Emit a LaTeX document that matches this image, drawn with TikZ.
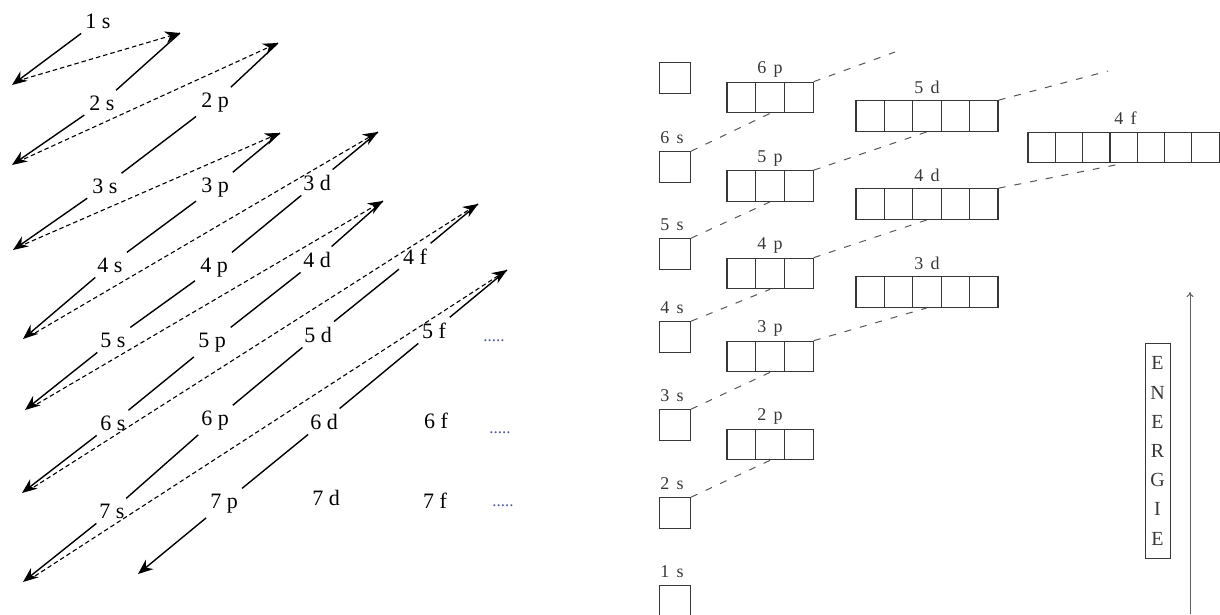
\documentclass[tikz,border=0pt]{standalone}
\usepackage{fontspec}
\setmainfont{Liberation Serif}
\newfontfamily\rfont[WordSpace=1.6]{Liberation Serif}
\usepackage{tikz}
\usetikzlibrary{arrows.meta, positioning, calc}
\definecolor{BoxGray}{RGB}{55,55,55}
\definecolor{DotBlue}{RGB}{80,90,150}

\begin{document}
\begin{tikzpicture}[x=1pt,y=-1pt,
	lbl/.style={anchor=base,inner sep=5pt,font=\fontsize{22}{24}\selectfont},
	dots/.style={anchor=base,inner sep=0pt,text=DotBlue,font=\fontsize{17}{20}\selectfont},
	ld/.style={line width=1.4pt},
	arr/.style={-{Stealth[length=15pt,width=12pt]}},
	lj/.style={line width=1.1pt,dash pattern=on 4.5pt off 3pt,-{Stealth[length=15pt,width=12pt]}},
	orb/.style={anchor=base,inner sep=1pt,text=BoxGray,font=\rfont\fontsize{18}{20}\selectfont},
	cell/.style={rectangle,draw=BoxGray,line width=1.2pt,minimum width=28.4pt,minimum height=30.5pt,inner sep=0pt},
	rj/.style={draw=BoxGray!85,line width=1pt,dash pattern=on 7pt off 9pt}]
\useasboundingbox (0,0) rectangle (1220,614);
\foreach \n/\l/\x/\y in {1/s/98/28,2/s/102/110,2/p/215/107,3/s/105/193,3/p/215/192,3/d/317/190,
	4/s/110/272,4/p/214/272,4/d/317/267,4/f/415/264,5/s/113/347,5/p/212/347,5/d/318/342,5/f/434/338,
	6/s/113/430,6/p/215/425,6/d/324/429,6/f/436/428,7/s/112/518,7/p/224/508,7/d/326/505,7/f/435/508}
	\node[lbl] (a\n\l) at (\x,\y) {\n~\l};
\foreach \i/\x/\y in {5/494/341,6/500/433,7/503/506}\node[dots] (dots\i) at (\x,\y) {.....};
\foreach \k/\x/\y in {2/180/33,3/278/43,4/280/133,5/378/132,6/383/201,7/478/204,8/507/270}\coordinate (t\k) at (\x,\y);
\foreach \k/\x/\y in {1/12/85,2/12/165,3/13/250,4/23/339,5/25/410,6/22/493,7/23/582,8/138/574}\coordinate (e\k) at (\x,\y);
\foreach \a/\b in {t2/a2s,t3/a2p,a2p/a3s,t4/a3p,a3p/a4s,t5/a3d,a3d/a4p,a4p/a5s,t6/a4d,a4d/a5p,a5p/a6s,
	t7/a4f,a4f/a5d,a5d/a6p,a6p/a7s,t8/a5f,a5f/a6d,a6d/a7p}\draw[ld] (\a)--(\b);
\foreach \a/\b in {a1s/e1,a2s/e2,a3s/e3,a4s/e4,a5s/e5,a6s/e6,a7s/e7,a7p/e8}\draw[ld,arr] (\a)--(\b);
\foreach \k/\m in {1/2,2/3,3/4,4/5,5/6,6/7,7/8}\draw[lj] ([shift={(12,-6)}]e\k)--(t\m);
\foreach \k/\y in {0/78,6/167,5/254,4/337,3/425,2/513,1/601}\node[cell,minimum width=31pt] (s\k) at (675,\y){};
\foreach \n/\y in {6/97.5,5/186,4/273.5,3/356.5,2/444.5}\foreach \c in {1,2,3}
	\node[cell,minimum width=28.7pt] (p\n-\c) at ({712.65+28.7*\c},\y){};
\foreach \n/\y in {5/116,4/204,3/292}\foreach \c in {1,...,5}\node[cell] (d\n-\c) at ({841.8+28.4*\c},\y){};
\foreach \c in {1,...,7}\node[cell,minimum width=27.3pt] (f4-\c) at ({1014.35+27.3*\c},147.5){};
\foreach \k in {1,...,6}\node[orb] (ls\k) at ([xshift=-3pt,yshift=8pt]s\k.north) {\k~s};
\foreach \n in {2,...,6}\node[orb] (lp\n) at ([yshift=8pt]p\n-2.north) {\n~p};
\foreach \n in {3,4,5}\node[orb] (ld\n) at ([yshift=7pt]d\n-3.north) {\n~d};
\node[orb] (lf4) at ([xshift=2pt,yshift=7pt]f4-4.north) {4~f};
\coordinate (o6) at (895,52);
\coordinate (o5) at (1108,71);
\foreach \a/\b in {s2/p2-2,s3/p3-2,s4/p4-2,s5/p5-2,s6/p6-2,p3-3/d3-3,p4-3/d4-3,p5-3/d5-3,d4-5/f4-4}
	\draw[rj] (\a.north east)--(\b.south);
\draw[rj] (p6-3.north east)--(o6);
\draw[rj] (d5-5.north east)--(o5);
\node[draw=BoxGray,line width=1pt,minimum width=25pt,minimum height=215pt,inner sep=0pt,align=center,
	text=BoxGray,font=\rfont\fontsize{20}{29.2}\selectfont] (energie) at (1157.5,451) {E\\N\\E\\R\\G\\I\\E};
\coordinate (ebot) at (1190,614);
\coordinate (etop) at (1190,292);
\draw[BoxGray!80,line width=1pt,-{To[length=5pt,width=7pt]}] (ebot)--(etop);
\end{tikzpicture}
\end{document}
